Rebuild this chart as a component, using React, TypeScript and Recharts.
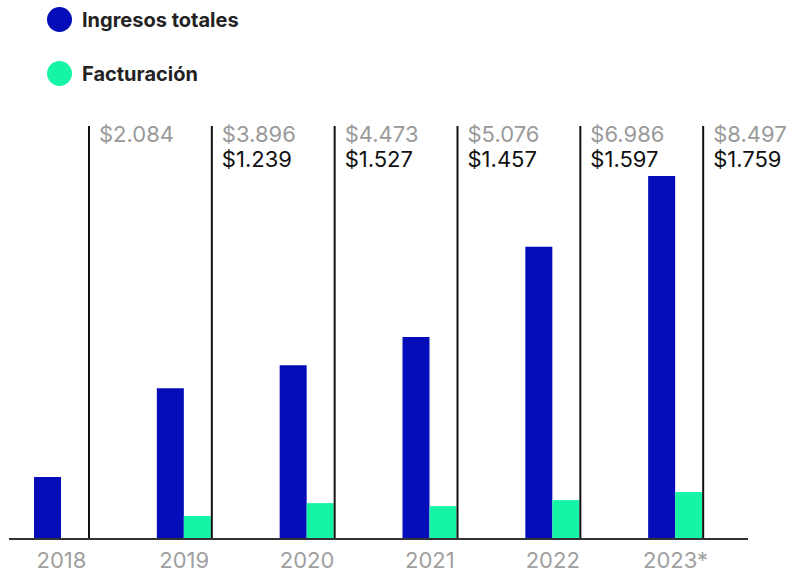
import React from 'react';
import { BarChart, Bar, XAxis, YAxis } from 'recharts';

// --- Data ---
const years = ['2018', '2019', '2020', '2021', '2022', '2023*'];
const ingresos = [1.45, 3.53, 4.07, 4.73, 6.84, 8.5];
const facturacion = [0, 0.54, 0.84, 0.77, 0.91, 1.1];
const ingresosLabels = ['$2.084', '$3.896', '$4.473', '$5.076', '$6.986', '$8.497'];
const facturacionLabels = ['', '$1.239', '$1.527', '$1.457', '$1.597', '$1.759'];

const BLUE = '#040db7';
const GREEN = '#15f5a5';
const FONT = 'Inter, "Noto Sans", sans-serif';

const chartData = years.map((year, i) => ({
  year,
  ingresos: ingresos[i],
  facturacion: facturacion[i],
  ingresosLabel: ingresosLabels[i],
  facturacionLabel: facturacionLabels[i],
}));

// green bar + the black divider on its right edge + the two value labels
const FacturacionShape = (props: any) => {
  const { x, y, width, height, background, payload } = props;
  const lineX = x + width + 1;
  const top = background ? background.y : 126;
  const bottom = background ? background.y + background.height : y + height;
  return (
    <g>
      {height > 0 && <rect x={x} y={y} width={width} height={height} fill={GREEN} />}
      <line x1={lineX} x2={lineX} y1={top} y2={bottom} stroke="#111" strokeWidth={2} />
      <text x={lineX + 10} y={top + 16} fill="#9a9a9a" fontSize={22} fontFamily={FONT}>
        {payload.ingresosLabel}
      </text>
      <text x={lineX + 10} y={top + 41} fill="#111" fontSize={22} fontFamily={FONT}>
        {payload.facturacionLabel}
      </text>
    </g>
  );
};

const LegendItem = ({ color, label, top }: { color: string; label: string; top: number }) => (
  <div style={{ position: 'absolute', left: 47, top, display: 'flex', alignItems: 'center' }}>
    <div style={{ width: 25, height: 25, borderRadius: '50%', background: color }} />
    <span style={{ marginLeft: 10, fontFamily: FONT, fontWeight: 700, fontSize: 20, color: '#222' }}>{label}</span>
  </div>
);

export default function App() {
  return (
    <div style={{ position: 'absolute', left: 0, top: 0, width: 799, height: 573, background: '#fff' }}>
      <LegendItem color={BLUE} label="Ingresos totales" top={7} />
      <LegendItem color={GREEN} label="Facturación" top={61} />
      <div style={{ position: 'absolute', left: 0, top: 0 }}>
        <BarChart
          width={799}
          height={573}
          data={chartData}
          margin={{ top: 126, right: 51, left: 9, bottom: 4 }}
          barGap={0}
          barCategoryGap={0}
        >
          <XAxis
            dataKey="year"
            padding={{ left: -9, right: 11 }}
            axisLine={{ stroke: '#333', strokeWidth: 2 }}
            tickLine={false}
            tickMargin={7}
            tick={{ fill: '#a0a0a0', fontSize: 22, fontFamily: FONT }}
          />
          <YAxis hide domain={[0, 9.67]} />
          <Bar dataKey="ingresos" fill={BLUE} barSize={27} isAnimationActive={false} />
          <Bar dataKey="facturacion" fill={GREEN} barSize={27} shape={<FacturacionShape />} isAnimationActive={false} />
        </BarChart>
      </div>
    </div>
  );
}
